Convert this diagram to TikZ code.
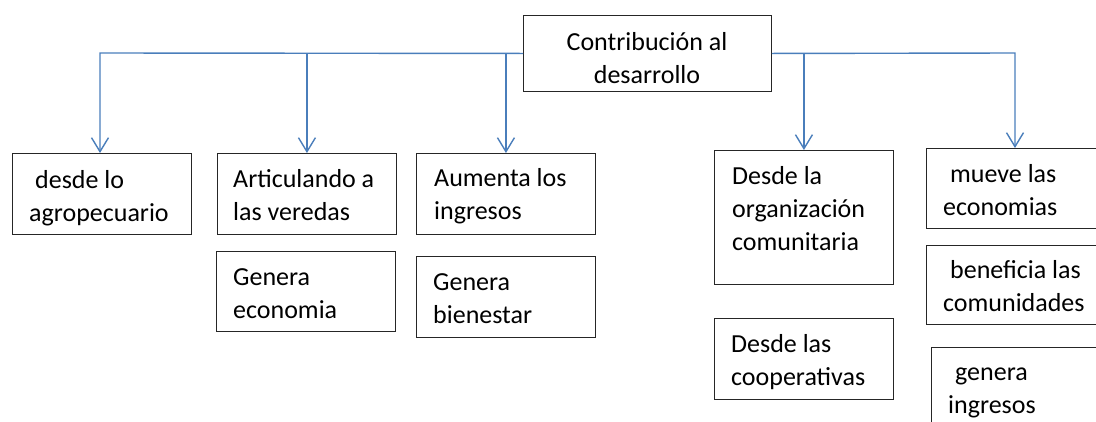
\documentclass[tikz,border=0pt]{standalone}
\usepackage{fontspec}
\setmainfont{Carlito}
\usetikzlibrary{arrows.meta}
\definecolor{conblue}{HTML}{4A7EBB}
\tikzset{
  boxnode/.style={draw=black!85, line width=0.9pt, rectangle, anchor=north west, inner sep=0pt},
  stdbox/.style={boxnode, minimum width=179pt, minimum height=81pt},
  txt/.style={anchor=base west, inner sep=0pt, align=left, font=\fontsize{26}{33}\selectfont},
  conn/.style={draw=conblue, line width=1.4pt, -{Straight Barb[length=14pt,width=17pt,line width=1.4pt]}},
  connline/.style={draw=conblue, line width=1.4pt}
}
\begin{document}
\begin{tikzpicture}[x=1pt,y=-1pt]
\useasboundingbox (0,0) rectangle (1096,421);
\clip (0,0) rectangle (1096,421);
% top box
\node[boxnode, minimum width=248pt, minimum height=76pt] (top) at (523,15) {};
\node[anchor=base, inner sep=0pt, align=center, font=\fontsize{26}{33}\selectfont] (ttop) at (647,83) {Contribución al\\desarrollo};
% left boxes
\node[stdbox] (b1) at (12,153) {};
\node[txt] (t1) at (29,221) {\hspace*{6pt}desde lo\\agropecuario};
\node[stdbox] (b2) at (217,153) {};
\node[txt] (t2) at (233,220) {Articulando a\\las veredas};
\node[stdbox] (b3) at (416,153) {};
\node[txt] (t3) at (434,219) {Aumenta los\\ingresos};
\node[stdbox, minimum height=80pt] (b4) at (216,251) {};
\node[txt] (t4) at (233,318) {Genera\\economia};
\node[stdbox] (b5) at (416,256) {};
\node[txt] (t5) at (433,323) {Genera\\bienestar};
% right boxes
\node[stdbox, minimum height=134pt] (b6) at (714,150) {};
\node[txt] (t6) at (732,250) {Desde la\\organización\\comunitaria};
\node[stdbox] (b7) at (714,318) {};
\node[txt] (t7) at (731,385) {Desde las\\cooperativas};
\node[stdbox, minimum width=200pt, minimum height=80pt] (b8) at (926,148) {};
\node[txt] (t8) at (943,215) {\hspace*{7pt}mueve las\\economias};
\node[stdbox, minimum width=200pt, minimum height=79pt] (b9) at (926,245) {};
\node[txt] (t9) at (943,311) {\hspace*{7pt}beneficia las\\comunidades};
\node[stdbox, minimum width=200pt, minimum height=120pt] (b10) at (931,347) {};
\node[txt] (t10) at (948,413) {\hspace*{7pt}genera\\ingresos};
% connectors
\coordinate (jl) at (100,53);
\coordinate (jr) at (1015,53);
\draw[conn] (top.west) -- (jl) -- (jl |- b1.north);
\draw[conn] (b2.north |- jl) -- (b2.north);
\draw[conn] (b3.north |- jl) -- (b3.north);
\draw[conn] (top.east) -- (jr) -- (jr |- b8.north);
\draw[conn] (b6.north |- jr) -- (b6.north);
\end{tikzpicture}
\end{document}
